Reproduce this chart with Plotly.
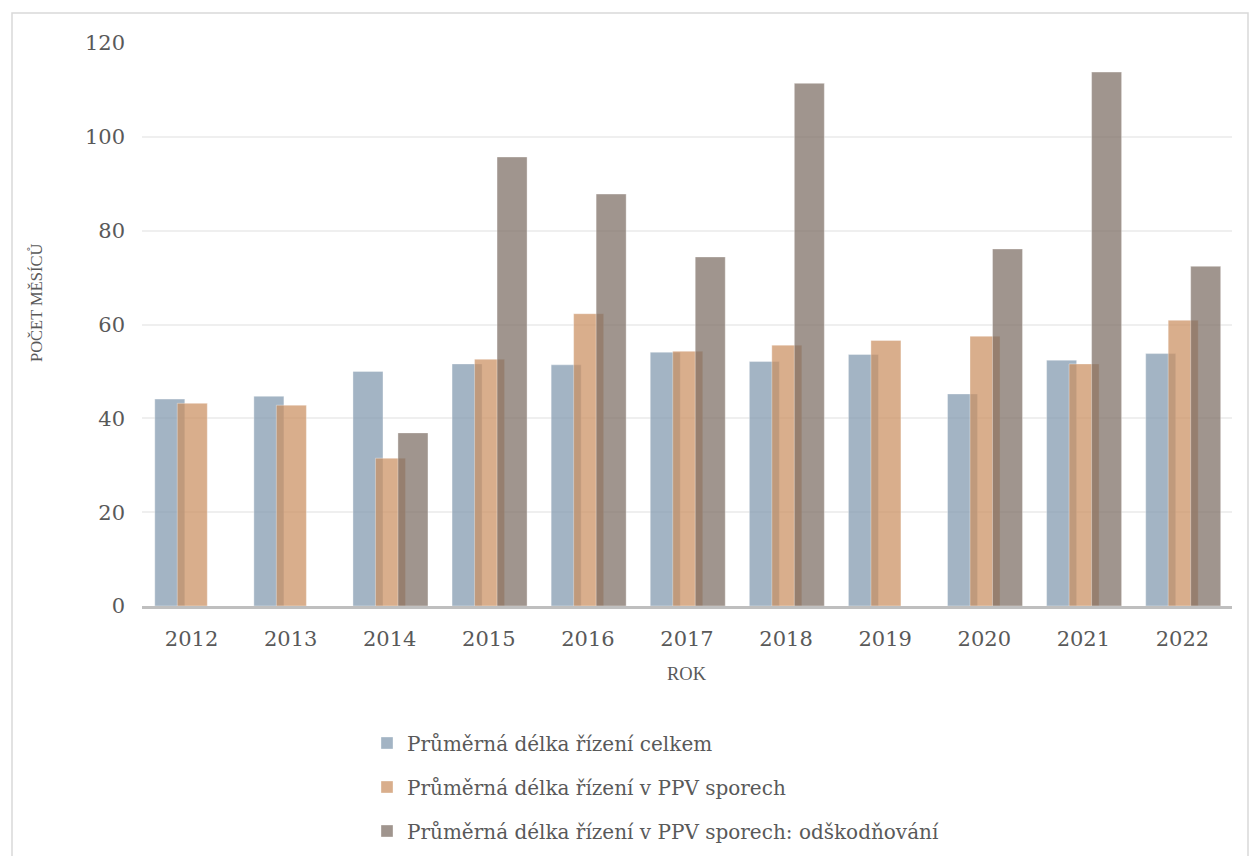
import plotly.graph_objects as go

# Průměrná délka řízení (počet měsíců) podle roku
years = ["2012", "2013", "2014", "2015", "2016", "2017", "2018", "2019", "2020", "2021", "2022"]
celkem = [44.1, 44.7, 50.0, 51.6, 51.4, 54.1, 52.1, 53.6, 45.2, 52.4, 53.8]
ppv = [43.2, 42.8, 31.5, 52.6, 62.3, 54.3, 55.6, 56.6, 57.5, 51.6, 60.9]
ppv_odskodnovani = [None, None, 36.9, 95.7, 87.8, 74.4, 111.4, None, 76.1, 113.8, 72.4]

series_names = [
    "Průměrná délka řízení celkem",
    "Průměrná délka řízení v PPV sporech",
    "Průměrná délka řízení v PPV sporech: odškodňování",
]
series_values = [celkem, ppv, ppv_odskodnovani]
colors = ["rgba(129,152,174,0.73)", "rgba(203,144,97,0.73)", "rgba(125,110,100,0.73)"]
offsets = [-0.371, -0.144, 0.083]
bar_width = 0.303
legend_ids = ["legend", "legend2", "legend3"]

TEXT = "#595959"
SERIF = "DejaVu Serif"
TITLE_FONT = "Liberation Serif"

# pixel geometry of the page and plotting area
W, H = 1251, 856
L, R, T, B = 142, 19, 43, 250
PW, PH = W - L - R, H - T - B


def px_x(x):
    return (x - L) / PW


def px_y(y):
    return (H - B - y) / PH


fig = go.Figure()
for name, vals, col, off, lg in zip(series_names, series_values, colors, offsets, legend_ids):
    fig.add_trace(go.Bar(
        name=name,
        x=years,
        y=vals,
        width=bar_width,
        offset=off,
        marker=dict(color=col, line=dict(color="rgba(255,255,255,0.35)", width=1)),
        legend=lg,
        showlegend=True,
    ))

# one legend per row, placed in page pixels so the plot area is not resized
legend_rows = [743, 787, 831]
legend_common = dict(
    xref="container", yref="container",
    x=367 / W, xanchor="left", yanchor="middle",
    font=dict(family=SERIF, size=20, color=TEXT),
    bgcolor="rgba(0,0,0,0)", borderwidth=0,
)

fig.update_layout(
    width=W, height=H,
    margin=dict(l=L, r=R, t=T, b=B, pad=0, autoexpand=False),
    paper_bgcolor="white", plot_bgcolor="white",
    barmode="overlay",
    showlegend=True,
    legend=dict(y=1 - legend_rows[0] / H, **legend_common),
    legend2=dict(y=1 - legend_rows[1] / H, **legend_common),
    legend3=dict(y=1 - legend_rows[2] / H, **legend_common),
    xaxis=dict(
        type="category",
        showline=True, linecolor="#bfbfbf", linewidth=2.5,
        showgrid=False, zeroline=False, ticks="",
        tickfont=dict(family=SERIF, size=21, color=TEXT),
        ticklabelstandoff=12,
    ),
    yaxis=dict(
        range=[0, 120], dtick=20,
        showgrid=True, gridcolor="#efefef", gridwidth=1.5,
        showline=False, zeroline=False, ticks="",
        tickfont=dict(family=SERIF, size=21, color=TEXT),
        ticklabelstandoff=16,
    ),
    annotations=[
        dict(text="ROK", xref="paper", yref="paper", x=0.5, y=px_y(674),
             xanchor="center", yanchor="middle", showarrow=False,
             font=dict(family=TITLE_FONT, size=18.5, color=TEXT)),
        dict(text="POČET MĚSÍCŮ", xref="paper", yref="paper", x=px_x(36), y=px_y(303),
             xanchor="center", yanchor="middle", textangle=-90, showarrow=False,
             font=dict(family=TITLE_FONT, size=16.5, color=TEXT)),
    ],
    shapes=[
        dict(type="rect", xref="paper", yref="paper",
             x0=px_x(12), x1=px_x(1248), y0=px_y(870), y1=px_y(13),
             line=dict(color="#d9d9d9", width=1.5), fillcolor="rgba(0,0,0,0)", layer="below"),
    ],
)

fig.write_html("out.html")
